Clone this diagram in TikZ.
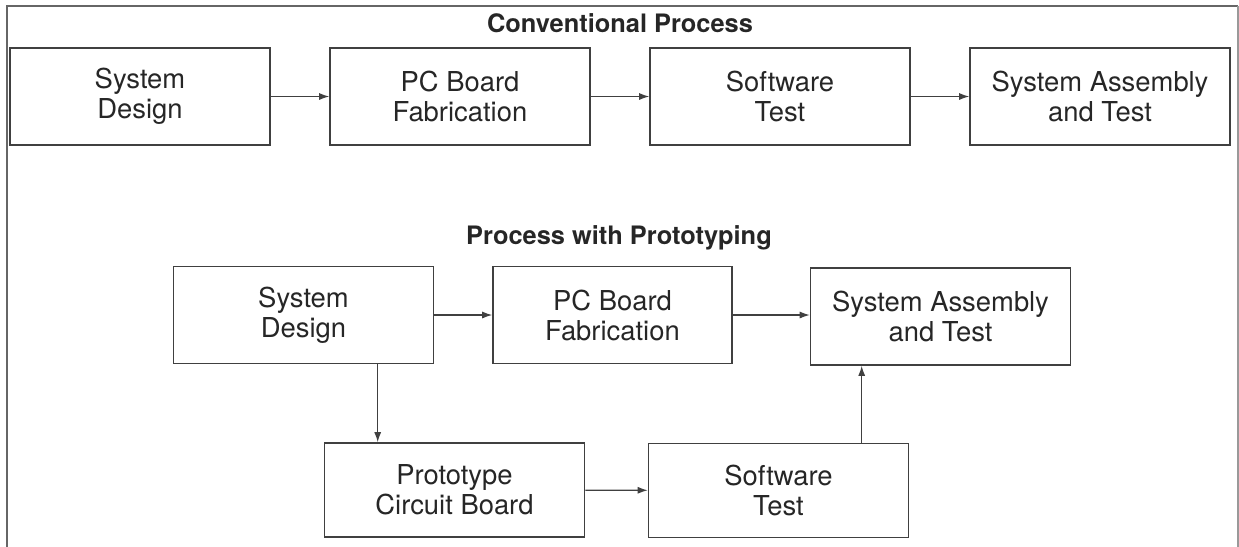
\documentclass[tikz,border=0pt]{standalone}
\usepackage{fontspec}
\setmainfont{TeX Gyre Heros}
\usetikzlibrary{arrows.meta}

\begin{document}
\begin{tikzpicture}[
  x=0.5pt, y=-0.5pt,
  stage/.style={draw=black!75, line width=0.8pt, minimum width=130pt, minimum height=48.5pt,
    inner sep=0pt, align=center, text=black!85, font=\fontsize{13.7}{15}\selectfont},
  heading/.style={font=\fontsize{12.7}{14}\selectfont\bfseries, text=black!85},
  flow/.style={draw=black!75, line width=0.6pt, -{Latex[length=5pt,width=3.5pt]}},
  frame/.style={draw=black!60, line width=0.7pt}
]
\useasboundingbox (0,0) rectangle (1239,547);
% open frame round both flows
\draw[frame] (7,547) -- (7,6) -- (1238,6);
\draw[frame, black!40] (1238,6) -- (1238,547);

% conventional flow, one row
\node[heading] (conv) at (620,23) {Conventional Process};
\foreach \i/\x/\txt in {1/140/{System\\Design}, 2/460/{PC Board\\Fabrication},
                        3/780/{Software\\Test}, 4/1100/{System Assembly\\and Test}} {
  \node[stage] (c\i) at (\x,96.5) {\txt};
}
\foreach \i/\j in {1/2,2/3,3/4}
  \draw[flow] (c\i) -- (c\j);

% flow with prototyping
\node[heading] (proto) at (619,238) {Process with Prototyping};
\node[stage] (sd) at (303.5,315) {System\\Design};
\node[stage, minimum width=119.5pt] (pcb) at (612.5,315) {PC Board\\Fabrication};
\node[stage] (sat) at (940.5,316.5) {System Assembly\\and Test};
\node[stage, minimum height=47pt] (ptb) at (454.5,490) {Prototype\\Circuit Board};
\node[stage, minimum height=47pt] (swt) at (778.5,490.5) {Software\\Test};

\coordinate (ptbin) at ([xshift=27pt]ptb.north west);
\coordinate (satin) at ([xshift=26pt]sat.south west);

\draw[flow] (sd) -- (pcb);
\draw[flow] (pcb.east) -- (pcb.east -| sat.west);
\draw[flow] (sd.south -| ptbin) -- (ptbin);
\draw[flow] (ptb) -- (swt);
\draw[flow] (swt.north -| satin) -- (satin);
\end{tikzpicture}
\end{document}
